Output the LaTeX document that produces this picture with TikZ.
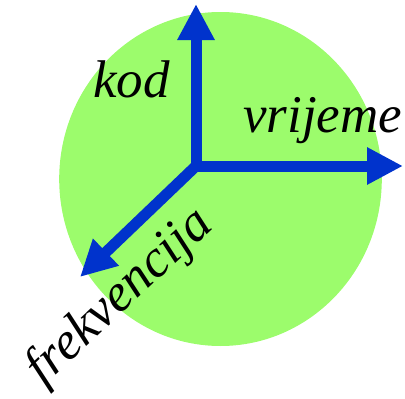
\documentclass[tikz,border=0pt]{standalone}
\usepackage{fontspec}
\newfontfamily\lblfont{Liberation Serif}[ItalicFont={Liberation Serif Italic}]
\usetikzlibrary{arrows.meta}
\definecolor{discgreen}{RGB}{156,252,108}
\definecolor{axisblue}{RGB}{0,51,204}
\begin{document}
\begin{tikzpicture}[x=1pt,y=-1pt,
  axis/.style={draw=axisblue,line width=11pt,-{Triangle[length=36pt,width=35pt]}},
  lbl/.style={font=\lblfont\fontsize{53}{62}\selectfont\itshape,inner sep=0pt}]
\useasboundingbox (0,0) rectangle (405,399);
\fill[discgreen] (220.5,179) ellipse [x radius=161.3pt, y radius=167pt];
\coordinate (o) at (196,166);
\coordinate (up) at (196,4);
\coordinate (rt) at (403,166);
\coordinate (dl) at (80,277);
\draw[axis] (o) -- (up);
\draw[axis] (o) -- (rt);
\draw[axis] (o) -- (dl);
\node[lbl,anchor=base west] (kod) at (93,97) {kod};
\node[lbl,anchor=base west] (vrijeme) at (243,132) {vrijeme};
\node[lbl,anchor=base,rotate=43] (frek) at (129,307) {frekvencija};
\end{tikzpicture}
\end{document}
